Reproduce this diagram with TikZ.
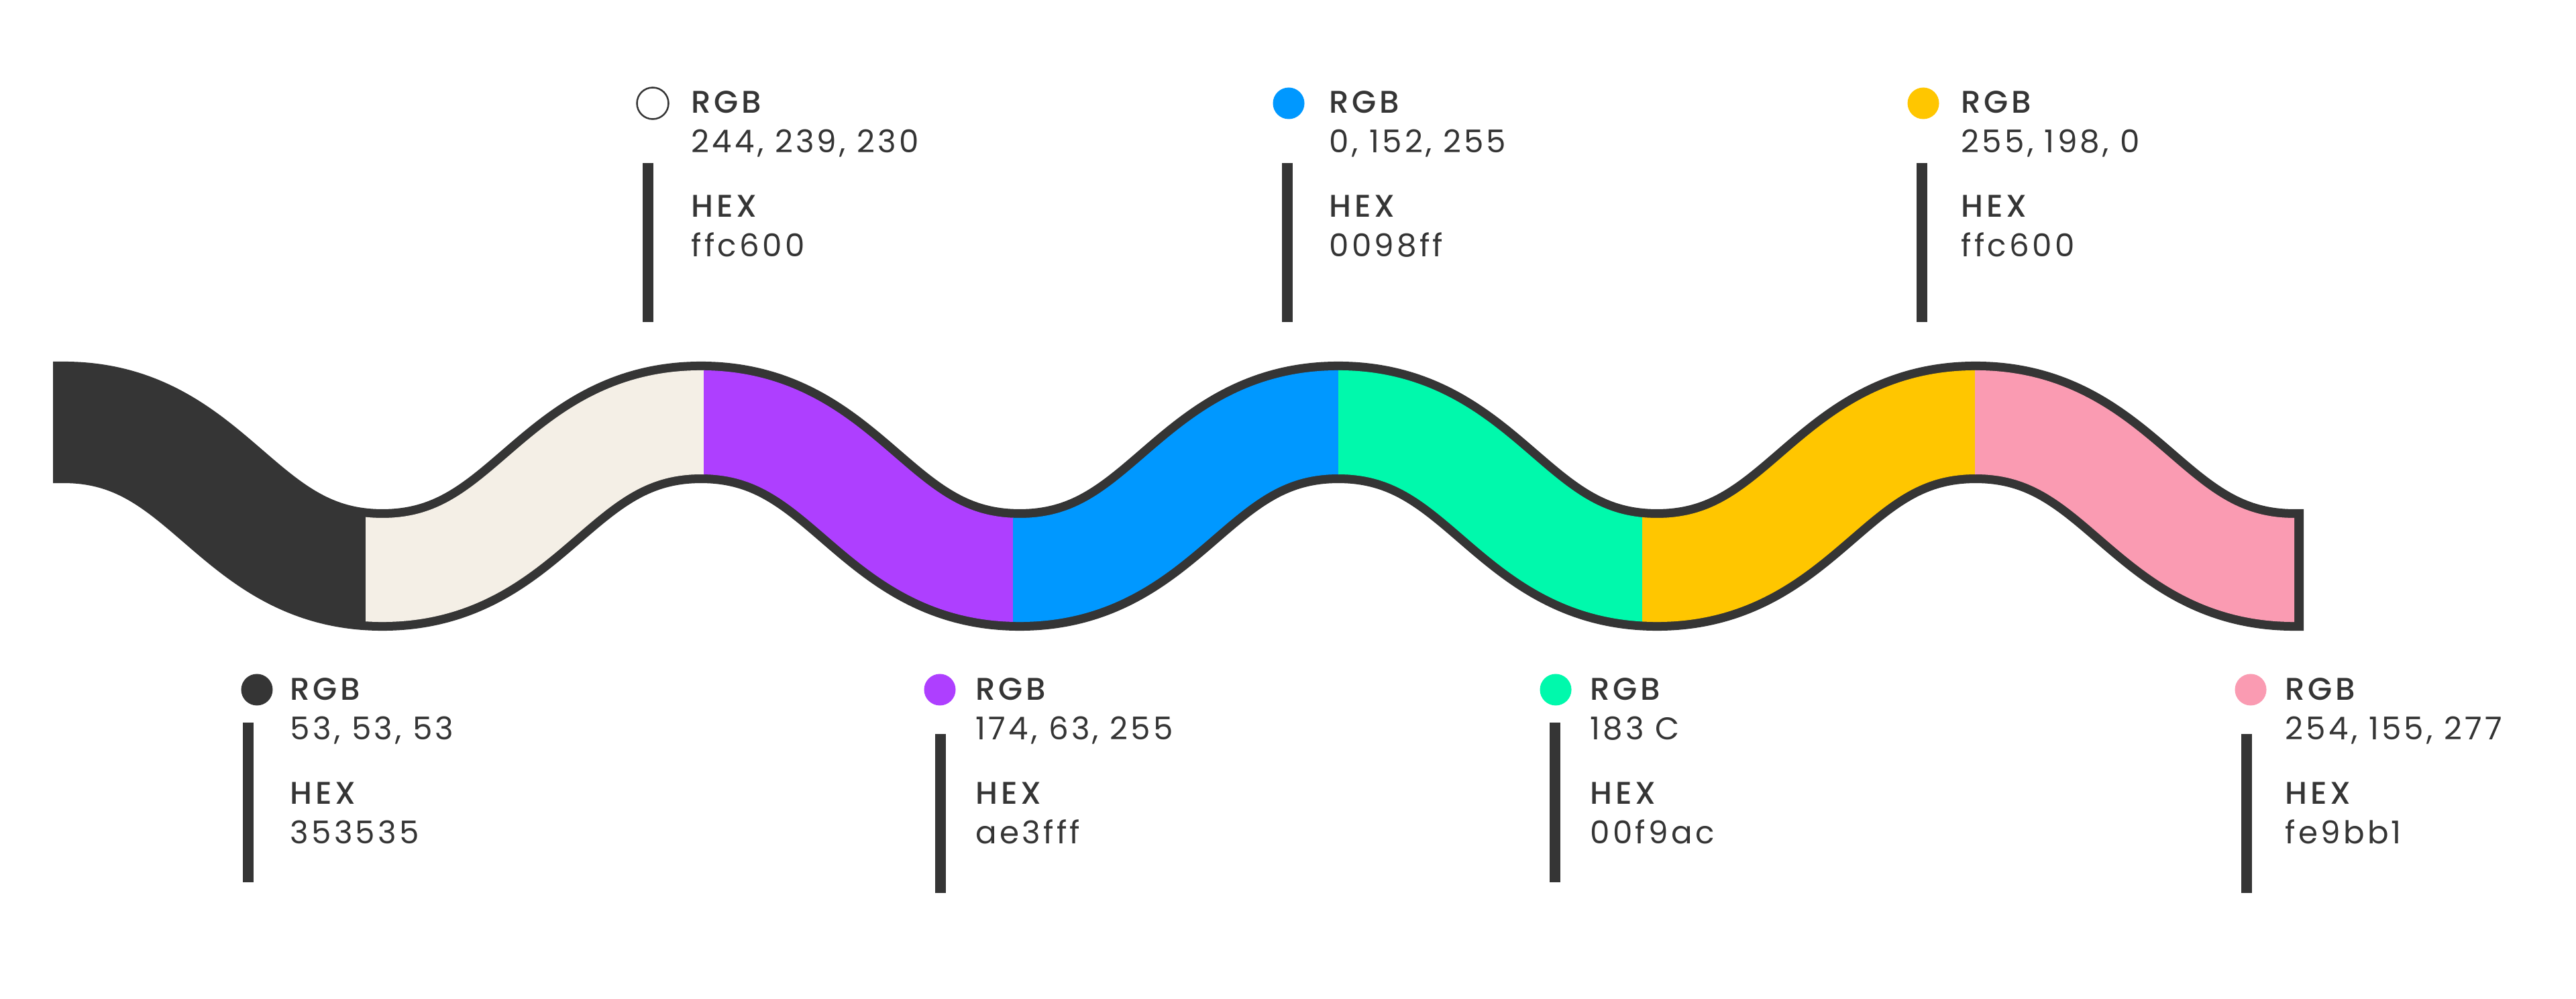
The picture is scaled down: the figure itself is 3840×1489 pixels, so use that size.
\documentclass[tikz,border=0pt]{standalone}
\usepackage{fontspec}
\setmainfont{Poppins}
\IfFontExistsTF{Poppins Medium}
  {\newfontfamily\headfont[LetterSpace=10,Ligatures=NoCommon]{Poppins Medium}}
  {\newfontfamily\headfont[LetterSpace=10,Ligatures=NoCommon]{Poppins}}
\newfontfamily\valfont[LetterSpace=9,Ligatures=NoCommon]{Poppins}
\definecolor{cDark}{HTML}{353535}
\definecolor{cCream}{HTML}{F4EFE6}
\definecolor{cPurple}{HTML}{AE3FFF}
\definecolor{cBlue}{HTML}{0098FF}
\definecolor{cGreen}{HTML}{00F9AC}
\definecolor{cYellow}{HTML}{FFC600}
\definecolor{cPink}{HTML}{FA9BB2}
\newcommand\wavedraw[1]{\draw[#1, line cap=butt] (20,629.5) -- (95,629.5)
  .. controls +(220,0) and +(-220,0) .. (570,849.5)
  .. controls +(220,0) and +(-220,0) .. (1045,629.5)
  .. controls +(220,0) and +(-220,0) .. (1520,849.5)
  .. controls +(220,0) and +(-220,0) .. (1995,629.5)
  .. controls +(220,0) and +(-220,0) .. (2470,849.5)
  .. controls +(220,0) and +(-220,0) .. (2945,629.5)
  .. controls +(220,0) and +(-220,0) .. (3420,849.5) -- (3490,849.5);}
\newcommand\swatch[7]{%
  \node[dotst, #5] (#1dot) at (#2, #4-15) {};
  \node[headst] (#1rgb) at (#3, #4) {RGB};
  \node[valst] (#1val) at (#3, #4+59) {#6};
  \node[headst] (#1hexh) at (#3, #4+155) {HEX};
  \node[valst] (#1hex) at (#3, #4+214) {#7};
}
\begin{document}
\begin{tikzpicture}[x=0.01cm, y=-0.01cm,
  dotst/.style={circle, minimum size=0.47cm, inner sep=0pt},
  headst/.style={anchor=base west, inner sep=0pt, text=cDark, font=\headfont\fontsize{13.3pt}{15pt}\selectfont},
  valst/.style={anchor=base west, inner sep=0pt, text=cDark, font=\valfont\fontsize{13.3pt}{15pt}\selectfont},
  barst/.style={draw=cDark, line width=0.16cm, line cap=butt},
]
\fill[white] (0,0) rectangle (3840,1489);
\useasboundingbox (0,0) rectangle (3840,1489);

% band outline / dark segment
\begin{scope}
  \clip (79,0) rectangle (3434,1489);
  \wavedraw{cDark, line width=1.81cm}
\end{scope}
% coloured segments
\foreach \xa/\xb/\col in {545/1050/cCream, 1049/1511/cPurple, 1510/1996/cBlue,
                          1995/2449/cGreen, 2448/2945/cYellow, 2944/3420/cPink}{
  \begin{scope}
    \clip (\xa,0) rectangle (\xb,1489);
    \wavedraw{\col, line width=1.55cm}
  \end{scope}
}

% top swatches
\swatch{white}{973}{1030}{169}{fill=white, draw=cDark, line width=0.025cm}{244, 239, 230}{ffc600}
\swatch{blue}{1921}{1981}{169}{fill=cBlue}{0, 152, 255}{0098ff}
\swatch{yellow}{2867}{2923}{169}{fill=cYellow}{255, 198, 0}{ffc600}
% bottom swatches
\swatch{dark}{383}{432}{1043}{fill=cDark}{53, 53, 53}{353535}
\swatch{purple}{1401}{1454}{1043}{fill=cPurple}{174, 63, 255}{ae3fff}
\swatch{green}{2319}{2370}{1043}{fill=cGreen}{183 C}{00f9ac}
\swatch{pink}{3355}{3406}{1043}{fill=cPink}{254, 155, 277}{fe9bb1}

% bars
\coordinate (wb1) at (966,243);  \coordinate (wb2) at (966,480);
\coordinate (bb1) at (1919,243); \coordinate (bb2) at (1919,480);
\coordinate (yb1) at (2865,243); \coordinate (yb2) at (2865,480);
\coordinate (db1) at (370,1077); \coordinate (db2) at (370,1315);
\coordinate (pb1) at (1402,1094); \coordinate (pb2) at (1402,1331);
\coordinate (gb1) at (2318,1077); \coordinate (gb2) at (2318,1315);
\coordinate (kb1) at (3349,1094); \coordinate (kb2) at (3349,1331);
\foreach \p in {w,b,y,d,p,g,k}{\draw[barst] (\p b1) -- (\p b2);}
\end{tikzpicture}
\end{document}
